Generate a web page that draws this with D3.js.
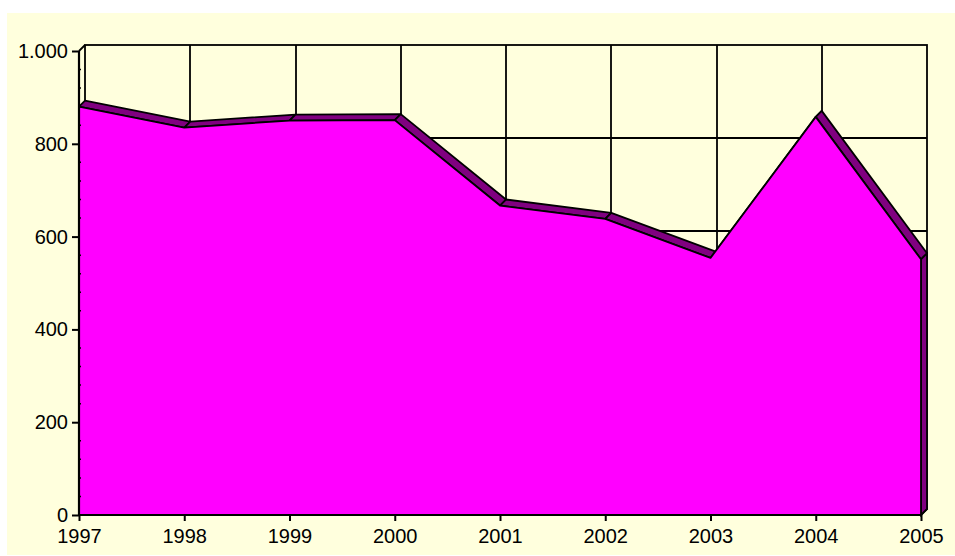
<!DOCTYPE html>
<html>
<head>
<meta charset="utf-8">
<script src="https://cdn.jsdelivr.net/npm/d3@7"></script>
<style>
  body { margin: 0; background: #fff; }
  text { font-family: "Liberation Sans", Arial, sans-serif; font-size: 20px; fill: #000; }
</style>
</head>
<body>
<svg id="svg" width="955" height="556"></svg>
<script>
const years = ['1997', '1998', '1999', '2000', '2001', '2002', '2003', '2004', '2005']
const values = [880, 835, 850, 851, 667, 638, 554, 858, 551]
const yTickValues = [0, 200, 400, 600, 800, 1000]

const width = 955
const height = 556
const margin = { top: 51, right: 34, bottom: 41, left: 79 }
// 3D depth offset of the back wall
const depth = { dx: 6, dy: -6 }
const lw = 1.8

const svg = d3.select('#svg')

// chart area background
svg.append('rect')
  .attr('x', 7).attr('y', 13)
  .attr('width', width - 7).attr('height', height - 14)
  .attr('fill', '#ffffdd')

const xScale = d3.scalePoint()
  .domain(years)
  .range([margin.left, width - margin.right])

const yScale = d3.scaleLinear()
  .domain([0, 1000])
  .range([height - margin.bottom, margin.top])

const x0 = xScale.range()[0]
const x1 = xScale.range()[1]
const yBase = yScale(0)
const yTop = yScale(1000)

const de = d3.formatLocale({ decimal: ',', thousands: '.', grouping: [3], currency: ['', ' €'] })
const fmt = de.format(',')

// back wall
const wall = svg.append('g')
wall.append('rect')
  .attr('x', x0 + depth.dx).attr('y', yTop + depth.dy)
  .attr('width', x1 - x0).attr('height', yBase - yTop)
  .attr('fill', '#ffffdd')
  .attr('stroke', '#000').attr('stroke-width', lw)

wall.selectAll('line.h')
  .data(yTickValues.slice(1, -1))
  .join('line')
  .attr('class', 'h')
  .attr('x1', x0 + depth.dx).attr('x2', x1 + depth.dx)
  .attr('y1', d => Math.round(yScale(d) + depth.dy)).attr('y2', d => Math.round(yScale(d) + depth.dy))
  .attr('stroke', '#000').attr('stroke-width', lw)

wall.selectAll('line.v')
  .data(years.slice(1, -1))
  .join('line')
  .attr('class', 'v')
  .attr('x1', d => Math.round(xScale(d) + depth.dx)).attr('x2', d => Math.round(xScale(d) + depth.dx))
  .attr('y1', yTop + depth.dy).attr('y2', yBase + depth.dy)
  .attr('stroke', '#000').attr('stroke-width', lw)

// left side wall top edge and floor right edge
svg.append('line')
  .attr('x1', x0).attr('y1', yTop)
  .attr('x2', x0 + depth.dx).attr('y2', yTop + depth.dy)
  .attr('stroke', '#000').attr('stroke-width', lw)

svg.append('line')
  .attr('x1', x1).attr('y1', yBase)
  .attr('x2', x1 + depth.dx).attr('y2', yBase + depth.dy)
  .attr('stroke', '#000').attr('stroke-width', lw)

const pts = years.map((y, i) => [xScale(y), yScale(values[i])])

// top bands of the area
const bands = svg.append('g')
bands.selectAll('path')
  .data(d3.pairs(pts))
  .join('path')
  .attr('d', ([a, b]) => 'M' + [a, b, [b[0] + depth.dx, b[1] + depth.dy], [a[0] + depth.dx, a[1] + depth.dy]].map(p => p.join(',')).join('L') + 'Z')
  .attr('fill', '#800080')
  .attr('stroke', '#000').attr('stroke-width', lw)
  .attr('stroke-linejoin', 'round')

// right side face
const last = pts[pts.length - 1]
svg.append('path')
  .attr('d', 'M' + [last, [last[0] + depth.dx, last[1] + depth.dy], [x1 + depth.dx, yBase + depth.dy], [x1, yBase]].map(p => p.join(',')).join('L') + 'Z')
  .attr('fill', '#800080')
  .attr('stroke', '#000').attr('stroke-width', lw)

// front face
const area = d3.area()
  .x((d, i) => xScale(years[i]))
  .y0(yBase)
  .y1(d => yScale(d))

svg.append('path')
  .datum(values)
  .attr('d', area)
  .attr('fill', '#ff00ff')
  .attr('stroke', '#000').attr('stroke-width', lw)
  .attr('stroke-linejoin', 'round')

// axes
const yAxis = d3.axisLeft(yScale)
  .tickValues(yTickValues)
  .tickFormat(fmt)
  .tickSize(7)
  .tickPadding(4)

const gy = svg.append('g')
  .attr('transform', `translate(${x0}, 0)`)
  .call(yAxis)
gy.select('.domain').attr('stroke-width', 2.2).attr('d', `M0,${yTop}V${yBase}`)
gy.selectAll('.tick line').attr('stroke-width', 2)
gy.selectAll('text').style('font-size', '20px').attr('fill', '#000')

// minor ticks on the value axis
gy.selectAll('line.minor')
  .data(d3.range(0, 1001, 40).filter(d => d % 200 !== 0))
  .join('line')
  .attr('class', 'minor')
  .attr('x1', 0).attr('x2', 2)
  .attr('y1', d => yScale(d)).attr('y2', d => yScale(d))
  .attr('stroke', '#000').attr('stroke-width', 1.5)

const xAxis = d3.axisBottom(xScale)
  .tickSize(6)
  .tickPadding(8)

const gx = svg.append('g')
  .attr('transform', `translate(0, ${yBase})`)
  .call(xAxis)
gx.select('.domain').attr('stroke-width', 2.2).attr('d', `M${x0},0H${x1}`)
gx.selectAll('.tick line').attr('stroke-width', 2)
gx.selectAll('text').style('font-size', '20px').attr('fill', '#000')
</script>
</body>
</html>
